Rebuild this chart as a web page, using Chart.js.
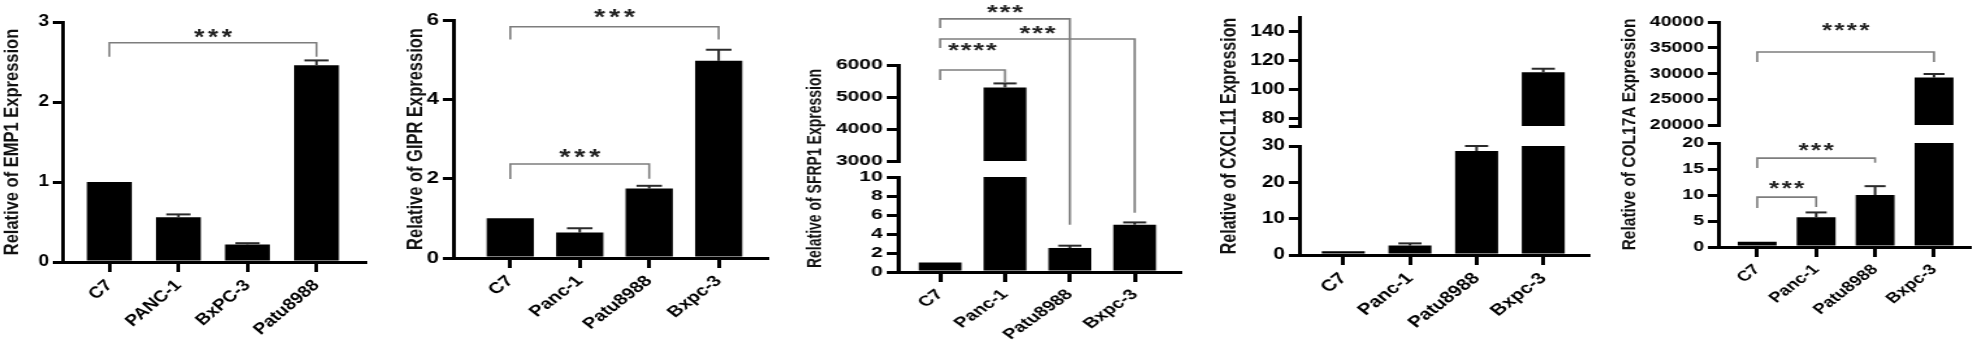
<!DOCTYPE html>
<html>
<head>
<meta charset="utf-8">
<script src="https://cdn.jsdelivr.net/npm/chart.js@4.4.1/dist/chart.umd.min.js"></script>
<style>
  html, body { margin: 0; padding: 0; background: #fff; }
  body { width: 1980px; height: 342px; position: relative; overflow: hidden; }
  .panel { position: absolute; top: 0; transform-origin: 0 0; }
  .panel canvas { display: block; }
</style>
</head>
<body>
<div class="panel" style="left:0px;transform:scaleX(1.2)"><canvas id="c1" width="333" height="342"></canvas></div>
<div class="panel" style="left:400px;transform:scaleX(1.3)"><canvas id="c2" width="308" height="342"></canvas></div>
<div class="panel" style="left:800px;transform:scaleX(1.4)"><canvas id="c3" width="300" height="342"></canvas></div>
<div class="panel" style="left:1220px;transform:scaleX(1.3)"><canvas id="c4" width="292" height="342"></canvas></div>
<div class="panel" style="left:1600px;transform:scaleX(1.3)"><canvas id="c5" width="292" height="342"></canvas></div>
<script>
const H = 342;
const FONT = '"Liberation Sans", Arial, sans-serif';

// EMP1
const emp1Cells = ['C7', 'PANC-1', 'BxPC-3', 'Patu8988'];
const emp1Values = [1.0, 0.56, 0.22, 2.46];
const emp1Errors = [0, 0.035, 0.015, 0.06];
const emp1Ticks = [0, 1, 2, 3];
const emp1Brackets = [
  { from: 0, to: 3, line: ['y', 2.74], ends: [['y', 2.565], ['y', 2.565]], mark: ['y', 2.88], text: '***' }
];

// cell lines for the other four panels
const cellLines = ['C7', 'Panc-1', 'Patu8988', 'Bxpc-3'];

// GIPR
const giprValues = [1.0, 0.64, 1.75, 4.97];
const giprErrors = [0, 0.11, 0.07, 0.28];
const giprTicks = [0, 2, 4, 6];
const giprBrackets = [
  { from: 0, to: 3, line: ['y', 5.83], ends: [['y', 5.51], ['y', 5.51]], mark: ['y', 6.21], text: '***' },
  { from: 0, to: 2, line: ['y', 2.37], ends: [['y', 1.99], ['y', 2.0]], mark: ['y', 2.69], text: '***' }
];

// SFRP1 (broken axis)
const sfrp1Values = [1.0, 5300, 2.53, 4.98];
const sfrp1Errors = [0, 125, 0.24, 0.24];
const sfrp1LowTicks = [0, 2, 4, 6, 8, 10];
const sfrp1HighTicks = [3000, 4000, 5000, 6000];
const sfrp1Brackets = [
  { from: 0, to: 2, line: ['up', 7440], ends: [['up', 7156], ['y', 4.98]], mark: ['up', 7812], text: '***' },
  { from: 0, to: 3, line: ['up', 6812], ends: [['up', 6531], ['y', 6.24]], mark: ['up', 7156], text: '***' },
  { from: 0, to: 1, line: ['up', 5844], ends: [['up', 5530], ['up', 5440]], mark: ['up', 6625], text: '****' }
];

// CXCL11 (broken axis)
const cxcl11Values = [1.0, 2.6, 28.6, 112];
const cxcl11Errors = [0, 0.6, 1.4, 2.4];
const cxcl11LowTicks = [0, 10, 20, 30];
const cxcl11HighTicks = [75, 80, 100, 120, 140];
const cxcl11HighLabels = ['', '80', '100', '120', '140'];

// COL17A (broken axis)
const col17aValues = [1.0, 5.7, 10.0, 29200];
const col17aErrors = [0, 0.95, 1.7, 700];
const col17aLowTicks = [0, 5, 10, 15, 20];
const col17aHighTicks = [20000, 25000, 30000, 35000, 40000];
const col17aBrackets = [
  { from: 0, to: 3, line: ['up', 34175], ends: [['up', 32233], ['up', 32233]], mark: ['up', 39400], text: '****' },
  { from: 0, to: 2, line: ['y', 17.1], ends: [['y', 15.2], ['y', 16.2]], mark: ['y', 19.6], text: '***' },
  { from: 0, to: 1, line: ['y', 9.6], ends: [['y', 7.5], ['y', 7.7]], mark: ['y', 12.3], text: '***' }
];

function makePanel(canvasId, d, g) {
  const canvas = document.getElementById(canvasId);
  const W = canvas.width;
  const broken = !!d.highTicks;
  const lowMax = d.lowTicks[d.lowTicks.length - 1];
  const highMin = broken ? d.highTicks[0] : null;
  const highMax = broken ? (g.highMax || d.highTicks[d.highTicks.length - 1]) : null;

  const barStyle = { backgroundColor: '#000', borderWidth: 0, grouped: false, categoryPercentage: 1, barPercentage: g.barPct };
  const datasets = [Object.assign({
    data: d.values.map(v => broken ? Math.min(v, lowMax) : v),
    yAxisID: 'y'
  }, barStyle)];
  if (broken) {
    datasets.push(Object.assign({
      data: d.values.map(v => v > highMin ? [highMin, v] : null),
      yAxisID: 'up'
    }, barStyle));
  }

  function yAxis(ticks, labels, min, max, extra) {
    return Object.assign({
      type: 'linear', axis: 'y', position: 'left', min: min, max: max,
      afterBuildTicks: s => { s.ticks = ticks.map(v => ({ value: v })); },
      afterFit: s => { s.width = g.axisX; },
      ticks: {
        color: '#000', padding: 3, autoSkip: false,
        font: { family: FONT, size: g.tickSize, weight: 'bold' },
        callback: (v, i) => labels ? labels[i] : String(v)
      },
      grid: { display: true, drawOnChartArea: false, drawTicks: true, tickLength: 8, tickWidth: 3, tickColor: '#000', color: '#000', lineWidth: 3 },
      border: { display: true, color: '#000', width: 3, z: 1 }
    }, extra || {});
  }

  const scales = {
    x: {
      type: 'category', offset: true,
      afterBuildTicks: s => {
        s._startValue = -g.padL;
        s._valueRange = s.ticks.length - 1 + g.padL + g.padR;
      },
      afterFit: s => { s.height = H - g.bottom; },
      ticks: {
        color: '#000', padding: 4, autoSkip: false, minRotation: 45, maxRotation: 45,
        font: { family: FONT, size: g.labelSize, weight: 'bold' }
      },
      grid: { display: true, offset: false, drawOnChartArea: false, drawTicks: true, tickLength: 10, tickWidth: 3, tickColor: '#000', color: '#000', lineWidth: 3 },
      border: { display: true, color: '#000', width: 3, z: 1 }
    }
  };
  if (broken) {
    scales.y = yAxis(d.lowTicks, null, 0, lowMax, { stack: 'ax', stackWeight: g.weights[2] });
    scales.gap = {
      type: 'linear', axis: 'y', position: 'left', stack: 'ax', stackWeight: g.weights[1],
      afterFit: s => { s.width = g.axisX; },
      ticks: { display: false }, grid: { display: false, drawTicks: false }, border: { display: false }
    };
    scales.up = yAxis(d.highTicks, d.highLabels || null, highMin, highMax, { stack: 'ax', stackWeight: g.weights[0] });
  } else {
    scales.y = yAxis(d.lowTicks, null, 0, lowMax);
  }

  const decor = {
    id: 'decor',
    afterDatasetsDraw(chart) {
      const ctx = chart.ctx;
      const area = chart.chartArea;
      const bars = chart.getDatasetMeta(0).data;
      const sy = p => chart.scales[p[0]].getPixelForValue(p[1]);
      const seg = (x1, y1, x2, y2) => { ctx.beginPath(); ctx.moveTo(x1, y1); ctx.lineTo(x2, y2); ctx.stroke(); };
      ctx.save();

      // error bars (upper half only)
      ctx.strokeStyle = '#2a2a2a';
      ctx.lineWidth = 2;
      d.values.forEach((v, i) => {
        const e = d.errors[i];
        if (!e) return;
        const id = broken && v > highMin ? 'up' : 'y';
        const x = bars[i].x, hw = bars[i].width * 0.27;
        const y0 = sy([id, v]), y1 = sy([id, v + e]);
        seg(x, y0, x, y1);
        seg(x - hw, y1, x + hw, y1);
      });

      // significance brackets
      ctx.strokeStyle = '#7d7d7d';
      ctx.lineWidth = 1.6;
      ctx.fillStyle = '#222';
      ctx.font = 'bold ' + g.starSize + 'px ' + FONT;
      ctx.textAlign = 'center';
      ctx.textBaseline = 'alphabetic';
      (d.brackets || []).forEach(b => {
        const xa = bars[b.from].x, xb = bars[b.to].x, yl = sy(b.line);
        ctx.beginPath();
        ctx.moveTo(xa, sy(b.ends[0]));
        ctx.lineTo(xa, yl);
        ctx.lineTo(xb, yl);
        ctx.lineTo(xb, sy(b.ends[1]));
        ctx.stroke();
        const n = b.text.length, cx = (xa + xb) / 2, ym = sy(b.mark) + g.starSize * 0.58;
        for (let k = 0; k < n; k++) {
          ctx.fillText(b.text[k], cx + (k - (n - 1) / 2) * g.starPitch, ym);
        }
      });

      // y title
      ctx.fillStyle = '#111';
      ctx.font = 'bold ' + g.titleSize + 'px ' + FONT;
      ctx.textBaseline = 'middle';
      ctx.translate(g.titleX, (area.top + area.bottom) / 2);
      ctx.rotate(-Math.PI / 2);
      ctx.fillText(d.title, 0, 0);
      ctx.restore();
    }
  };

  new Chart(canvas, {
    type: 'bar',
    data: { labels: d.labels, datasets: datasets },
    options: {
      responsive: false,
      maintainAspectRatio: false,
      animation: false,
      devicePixelRatio: 1,
      layout: { padding: { left: 0, right: W - g.endX, top: g.top, bottom: 0 } },
      plugins: { legend: { display: false }, tooltip: { enabled: false } },
      scales: scales
    },
    plugins: [decor]
  });
}

makePanel('c1',
  { title: 'Relative of EMP1 Expression', labels: emp1Cells, values: emp1Values, errors: emp1Errors, lowTicks: emp1Ticks, brackets: emp1Brackets },
  { axisX: 52, endX: 304, top: 22, bottom: 262, padL: 0.68, padR: 0.70, barPct: 0.65,
    titleX: 10.5, titleSize: 16.5, tickSize: 16, labelSize: 16, starSize: 22, starPitch: 11.5 });

makePanel('c2',
  { title: 'Relative of GIPR Expression', labels: cellLines, values: giprValues, errors: giprErrors, lowTicks: giprTicks, brackets: giprBrackets },
  { axisX: 41, endX: 282, top: 20, bottom: 258, padL: 0.82, padR: 0.69, barPct: 0.68,
    titleX: 12, titleSize: 16.5, tickSize: 17, labelSize: 15.5, starSize: 22, starPitch: 11.5 });

makePanel('c3',
  { title: 'Relative of SFRP1 Expression', labels: cellLines, values: sfrp1Values, errors: sfrp1Errors,
    lowTicks: sfrp1LowTicks, highTicks: sfrp1HighTicks, brackets: sfrp1Brackets },
  { axisX: 70, endX: 271, top: 65, bottom: 272, weights: [96, 16, 95], padL: 0.65, padR: 0.69, barPct: 0.66,
    titleX: 11.4, titleSize: 14, tickSize: 15, labelSize: 14.5, starSize: 20, starPitch: 9 });

makePanel('c4',
  { title: 'Relative of CXCL11 Expression', labels: cellLines, values: cxcl11Values, errors: cxcl11Errors,
    lowTicks: cxcl11LowTicks, highTicks: cxcl11HighTicks, highLabels: cxcl11HighLabels, brackets: [] },
  { axisX: 61, endX: 283, top: 17, bottom: 255, weights: [109, 20, 109], highMax: 150, padL: 0.66, padR: 0.67, barPct: 0.645,
    titleX: 8, titleSize: 16, tickSize: 16, labelSize: 16, starSize: 20, starPitch: 9.6 });

makePanel('c5',
  { title: 'Relative of COL17A Expression', labels: cellLines, values: col17aValues, errors: col17aErrors,
    lowTicks: col17aLowTicks, highTicks: col17aHighTicks, brackets: col17aBrackets },
  { axisX: 91, endX: 284.6, top: 22, bottom: 247, weights: [103, 18, 104], padL: 0.66, padR: 0.61, barPct: 0.66,
    titleX: 23, titleSize: 15.5, tickSize: 15, labelSize: 14.5, starSize: 20, starPitch: 9.6 });
</script>
</body>
</html>
